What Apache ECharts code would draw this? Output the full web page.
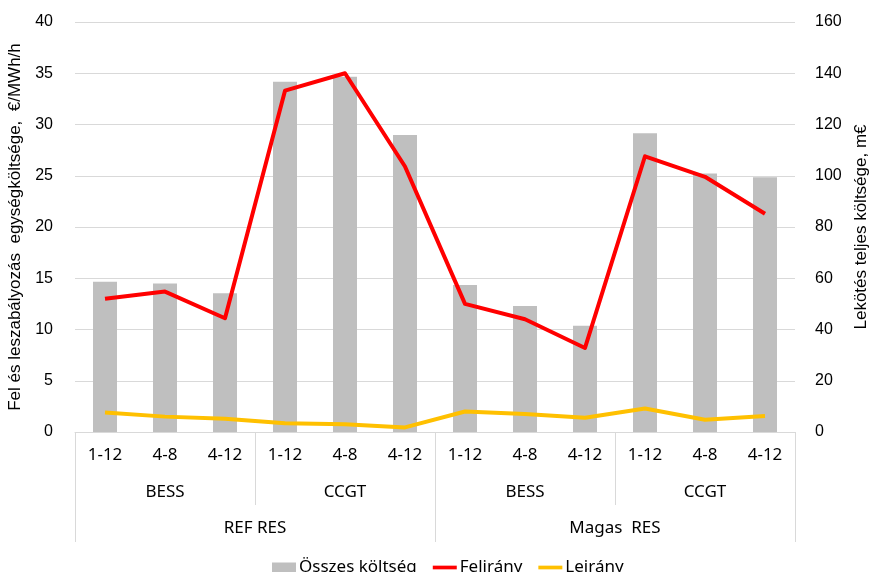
<!DOCTYPE html>
<html>
<head>
<meta charset="utf-8">
<script src="https://cdn.jsdelivr.net/npm/echarts@6/dist/echarts.min.js"></script>
<style>
  html, body { margin: 0; padding: 0; background: #fff; overflow: hidden; }
  #chart { width: 869px; height: 572px; }
</style>
</head>
<body>
<div id="chart"></div>
<script>
// Three-level category axis: period / technology / RES scenario
const periods = ['1-12', '4-8', '4-12', '1-12', '4-8', '4-12', '1-12', '4-8', '4-12', '1-12', '4-8', '4-12'];
const technologies = ['BESS', 'CCGT', 'BESS', 'CCGT'];
const scenarios = ['REF RES', 'Magas  RES'];

// Total reservation cost (m€, right axis)
const totalCost = [58.6, 58.0, 54.1, 136.7, 138.6, 115.9, 57.4, 49.2, 41.5, 116.6, 100.9, 99.4];
// Unit cost of upward / downward regulation (€/MWh, left axis)
const upward = [13.0, 13.7, 11.1, 33.3, 35.0, 25.9, 12.5, 11.0, 8.2, 26.9, 24.9, 21.3];
const downward = [1.9, 1.5, 1.3, 0.85, 0.75, 0.45, 2.0, 1.75, 1.4, 2.3, 1.2, 1.55];

const leftTicks = { min: 0, max: 40, interval: 5 };
const rightTicks = { min: 0, max: 160, interval: 20 };

const gridColor = '#D9D9D9';
const numFont = 'Liberation Sans, Arial, sans-serif';
const catFont = 'Noto Sans, Open Sans, sans-serif';
const lineIcon = 'path://M0,0H26V4H0Z';

const chart = echarts.init(document.getElementById('chart'), null, { renderer: 'canvas', width: 869, height: 572 });

chart.setOption({
  animation: false,
  backgroundColor: '#ffffff',
  grid: { left: 75, right: 74, top: 22, bottom: 140, containLabel: false, outerBoundsMode: 'none' },
  legend: {
    top: 554,
    left: 267,
    itemGap: 16,
    itemWidth: 24,
    itemHeight: 10,
    symbolKeepAspect: true,
    textStyle: { fontFamily: catFont, fontSize: 17, color: '#000', padding: [0, 0, 0, -2] },
    data: [
      { name: 'Összes költség', icon: 'rect' },
      { name: 'Felirány', icon: lineIcon },
      { name: 'Leirány', icon: lineIcon }
    ]
  },
  xAxis: [
    {
      type: 'category',
      data: periods,
      gridIndex: 0,
      position: 'bottom',
      axisLine: { show: true, lineStyle: { color: gridColor, width: 1 } },
      axisTick: { show: false },
      axisLabel: { interval: 0, margin: 15, fontFamily: catFont, fontSize: 17, color: '#000' },
      splitLine: { show: false }
    },
    {
      type: 'category',
      data: technologies,
      gridIndex: 0,
      position: 'bottom',
      axisLine: { show: false },
      axisTick: { show: true, interval: 0, length: 73, lineStyle: { color: gridColor, width: 1 } },
      axisLabel: { interval: 0, margin: 52, fontFamily: catFont, fontSize: 17, color: '#000' },
      splitLine: { show: false }
    },
    {
      type: 'category',
      data: scenarios,
      gridIndex: 0,
      position: 'bottom',
      axisLine: { show: false },
      axisTick: { show: true, interval: 0, length: 110, lineStyle: { color: gridColor, width: 1 } },
      axisLabel: { interval: 0, margin: 88, fontFamily: catFont, fontSize: 17, color: '#000' },
      splitLine: { show: false }
    }
  ],
  yAxis: [
    {
      type: 'value',
      min: leftTicks.min, max: leftTicks.max, interval: leftTicks.interval,
      position: 'left',
      name: 'Fel és leszabályozás  egységköltsége,  €/MWh/h',
      nameLocation: 'middle',
      nameGap: 44,
      nameTextStyle: { fontFamily: numFont, fontSize: 17, color: '#000' },
      axisLine: { show: false },
      axisTick: { show: false },
      axisLabel: { margin: 22, fontFamily: numFont, fontSize: 16, color: '#000' },
      splitLine: { show: true, lineStyle: { color: gridColor, width: 1 } }
    },
    {
      type: 'value',
      min: rightTicks.min, max: rightTicks.max, interval: rightTicks.interval,
      position: 'right',
      name: 'Lekötés teljes költsége, m€',
      nameLocation: 'middle',
      nameGap: 57,
      nameTextStyle: { fontFamily: numFont, fontSize: 17, color: '#000' },
      axisLine: { show: false },
      axisTick: { show: false },
      axisLabel: { margin: 20, fontFamily: numFont, fontSize: 16, color: '#000' },
      splitLine: { show: false }
    }
  ],
  series: [
    {
      name: 'Összes költség',
      type: 'bar',
      xAxisIndex: 0,
      yAxisIndex: 1,
      data: totalCost,
      barWidth: '40%',
      itemStyle: { color: '#BFBFBF' },
      z: 2
    },
    {
      name: 'Felirány',
      type: 'line',
      xAxisIndex: 0,
      yAxisIndex: 0,
      data: upward,
      symbol: 'none',
      smooth: false,
      lineStyle: { color: '#FF0000', width: 4, join: 'round' },
      itemStyle: { color: '#FF0000' },
      z: 4
    },
    {
      name: 'Leirány',
      type: 'line',
      xAxisIndex: 0,
      yAxisIndex: 0,
      data: downward,
      symbol: 'none',
      smooth: false,
      lineStyle: { color: '#FFC000', width: 4, join: 'round' },
      itemStyle: { color: '#FFC000' },
      z: 3
    }
  ]
});
</script>
</body>
</html>
